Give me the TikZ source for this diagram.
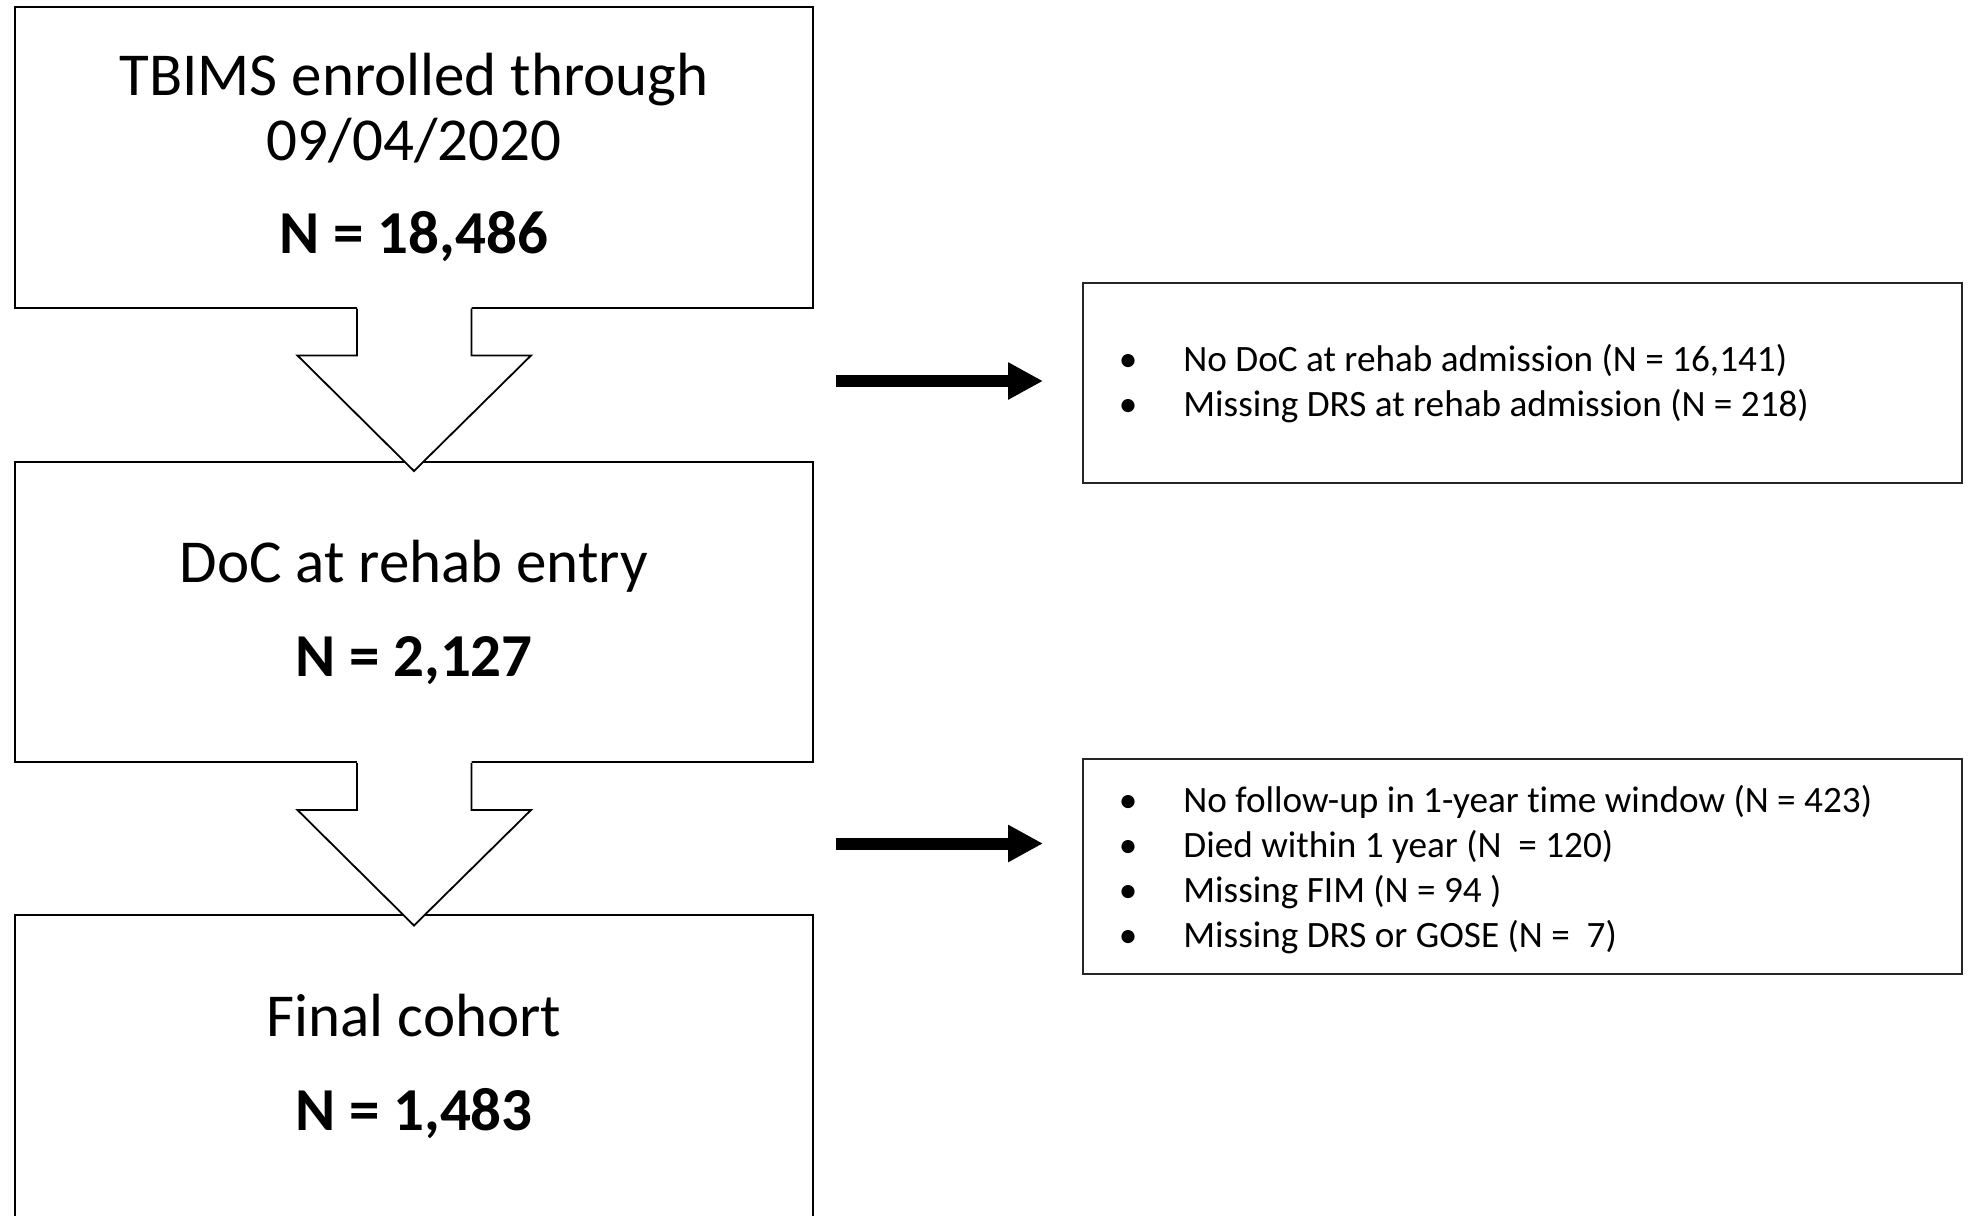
\documentclass[tikz,border=0pt]{standalone}
\usepackage{fontspec}
\setmainfont{Carlito}[Ligatures=NoCommon]
\usetikzlibrary{arrows.meta,calc}
\tikzset{
  mainbox/.style={draw=black, line width=1pt, fill=white, inner sep=0pt},
  sidebox/.style={draw=black!85, line width=1.2pt, fill=white, inner sep=0pt},
  bigtxt/.style={inner sep=0pt, anchor=base, font=\fontsize{30.5}{33}\selectfont},
  boldtxt/.style={inner sep=0pt, anchor=base, font=\fontsize{30.5}{33}\selectfont\bfseries},
  smalltxt/.style={inner sep=0pt, anchor=base west, font=\fontsize{18.6}{22}\selectfont},
  bullet/.style={inner sep=0pt, anchor=base, font=\fontsize{18.6}{22}\selectfont},
  blockarrow/.style={draw=black, line width=0.9pt, line join=miter},
  thickarrow/.style={line width=6pt, -{Triangle[length=17.5pt,width=17.5pt]}},
}
\begin{document}
\begin{tikzpicture}[x=0.5pt,y=-0.5pt]
\useasboundingbox (0,0) rectangle (1968,1215);
% main boxes
\node[mainbox, minimum width=399pt, minimum height=150.25pt] (b1) at (414,157.25) {};
\node[mainbox, minimum width=399pt, minimum height=150pt] (b2) at (414,612) {};
\node[mainbox, minimum width=399pt, minimum height=160pt] (b3) at (414,1075) {};
% side boxes
\node[sidebox, minimum width=439.5pt, minimum height=100pt] (r1) at (1522.5,383) {};
\node[sidebox, minimum width=439.5pt, minimum height=107.5pt] (r2) at (1522.5,866.5) {};
% block arrows
\foreach \a/\b in {b1/b2, b2/b3}{
  \fill[white] ($(\a.south)+(-57,-3)$) -- ($(\a.south)+(-57,47)$) -- ($(\a.south)+(-116.5,47)$)
     -- ($(\a.south)+(0,162.5)$) -- ($(\a.south)+(117,47)$) -- ($(\a.south)+(57.5,47)$) -- ($(\a.south)+(57.5,-3)$) -- cycle;
  \draw[blockarrow] ($(\a.south)+(-57,0)$) -- ($(\a.south)+(-57,47)$) -- ($(\a.south)+(-116.5,47)$)
     -- ($(\a.south)+(0,162.5)$) -- ($(\a.south)+(117,47)$) -- ($(\a.south)+(57.5,47)$) -- ($(\a.south)+(57.5,0)$);
}
% texts in box 1
\node[bigtxt] (t1a) at (414,95) {TBIMS enrolled through};
\node[bigtxt] (t1b) at (414,160) {09/04/2020};
\node[boldtxt] (t1c) at (414,253) {N = 18,486};
% box 2
\node[bigtxt] (t2a) at (414,582) {DoC at rehab entry};
\node[boldtxt] (t2b) at (414,676) {N = 2,127};
% box 3
\node[bigtxt] (t3a) at (414,1036.5) {Final cohort};
\node[boldtxt] (t3b) at (414,1130) {N = 1,483};
% side box 1 text
\node[bullet] (u1) at (1128,371.5) {•};
\node[smalltxt] (s1) at (1183,371.5) {No DoC at rehab admission (N = 16,141)};
\node[bullet] (u2) at (1128,416.5) {•};
\node[smalltxt] (s2) at (1183,416.5) {Missing DRS at rehab admission (N = 218)};
% side box 2 text
\node[bullet] (v1) at (1128,812) {•};
\node[smalltxt] (w1) at (1183,812) {No follow-up in 1-year time window (N = 423)};
\node[bullet] (v2) at (1128,857) {•};
\node[smalltxt] (w2) at (1183,857) {Died within 1 year (N~ = 120)};
\node[bullet] (v3) at (1128,902) {•};
\node[smalltxt] (w3) at (1183,902) {Missing FIM (N = 94 )};
\node[bullet] (v4) at (1128,947) {•};
\node[smalltxt] (w4) at (1183,947) {Missing DRS or GOSE (N =~ 7)};
% thick arrows
\coordinate (a1s) at (836,381);
\coordinate (a1e) at (1043,381);
\coordinate (a2s) at (836,843.5);
\coordinate (a2e) at (1043,843.5);
\draw[thickarrow] (a1s) -- (a1e);
\draw[thickarrow] (a2s) -- (a2e);
\end{tikzpicture}
\end{document}
